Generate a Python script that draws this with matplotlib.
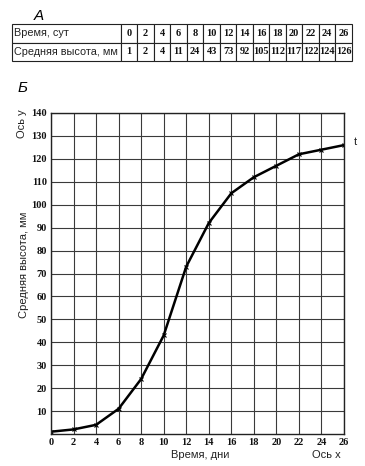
import numpy as np
import matplotlib.pyplot as plt

days = [0, 2, 4, 6, 8, 10, 12, 14, 16, 18, 20, 22, 24, 26]
height_mm = [1, 2, 4, 11, 24, 43, 73, 92, 105, 112, 117, 122, 124, 126]
row_labels = ['Время, сут', 'Средняя высота, мм']
x_ticks = list(range(0, 27, 2))
y_ticks = list(range(10, 141, 10))

W, H = 365, 466
fig = plt.figure(figsize=(W / 100, H / 100), dpi=100)

sans = ['Liberation Sans', 'DejaVu Sans']
serif = ['Liberation Serif', 'DejaVu Serif']

# ------------ TABLE (A) ------------
fig.text(34 / W, 1 - 16 / H, 'А', family=sans, style='italic', fontsize=11, va='center')
tax = fig.add_axes([12 / W, 1 - 61 / H, 340 / W, 37 / H])
tax.axis('off')
cells = [[str(v) for v in days], [str(v) for v in height_mm]]
first_w = 0.32
col_w = (1 - first_w) / len(days)
tbl = tax.table(cellText=[[row_labels[i]] + cells[i] for i in range(2)],
                colWidths=[first_w] + [col_w] * len(days),
                bbox=[0, 0, 1, 1], cellLoc='center')
tbl.auto_set_font_size(False)
for (r, c), cell in tbl.get_celld().items():
    cell.set_linewidth(0.8)
    cell.set_edgecolor('#222222')
    cell.PAD = 0.02
    t = cell.get_text()
    if c == 0:
        t.set_ha('left')
        t.set_fontfamily(sans)
        t.set_fontsize(7.8)
        t.set_color('#222222')
    else:
        t.set_fontfamily(serif)
        t.set_fontsize(7.5)
        t.set_fontweight('bold')
        t.set_color('#111111')

# ------------ GRAPH (Б) ------------
fig.text(18 / W, 1 - 88 / H, 'Б', family=sans, style='italic', fontsize=11, va='center')
ax = fig.add_axes([51 / W, 1 - 434 / H, 293 / W, 321 / H])
ax.plot(days, height_mm, color='black', lw=1.8, marker='x', ms=3, mew=0.8)
ax.set_xlim(0, 26)
ax.set_ylim(0, 140)
ax.set_xticks(x_ticks)
ax.set_yticks(y_ticks)
ax.grid(True, color='#3a3a3a', lw=0.8)
ax.tick_params(length=0, pad=3, labelsize=7.5, colors='#111111')
for lbl in ax.get_xticklabels() + ax.get_yticklabels():
    lbl.set_fontfamily(serif)
    lbl.set_fontweight('bold')
for s in ax.spines.values():
    s.set_linewidth(1.0)
    s.set_color('#222222')

fig.text(200 / W, 1 - 455 / H, 'Время, дни', family=sans, fontsize=8, ha='center', va='center', color='#222222')
fig.text(326 / W, 1 - 455 / H, 'Ось x', family=sans, fontsize=8, ha='center', va='center', color='#222222')
fig.text(24 / W, 1 - 265 / H, 'Средняя высота, мм', family=sans, fontsize=8, rotation=90,
         ha='center', va='center', color='#222222')
fig.text(22 / W, 1 - 124 / H, 'Ось y', family=sans, fontsize=8, rotation=90,
         ha='center', va='center', color='#222222')
fig.text(355 / W, 1 - 142 / H, 't', family=sans, fontsize=8, ha='center', va='center', color='#222222')

fig.savefig('out.png', dpi=100)
